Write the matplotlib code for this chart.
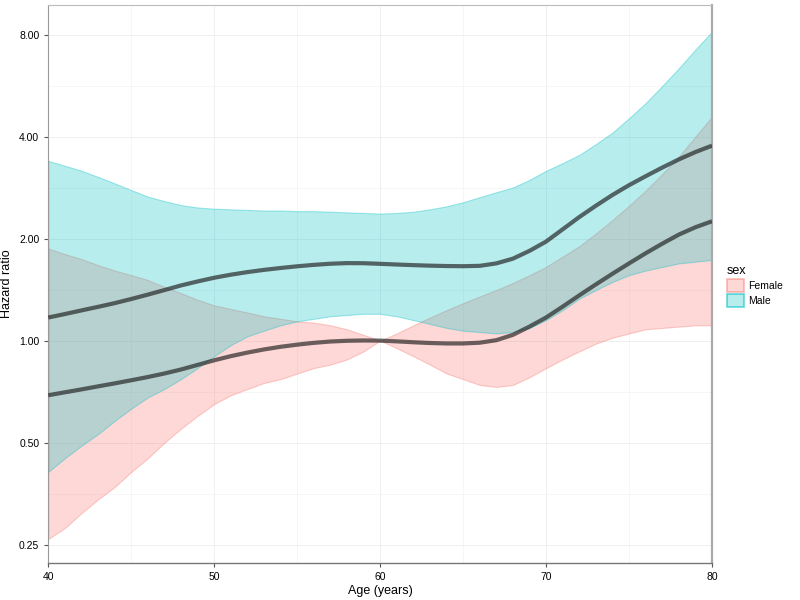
import matplotlib

matplotlib.use("Agg")
import matplotlib.pyplot as plt
from matplotlib.patches import Patch
from matplotlib.colors import to_rgba
import numpy as np

plt.rcParams["font.family"] = ["Liberation Sans", "DejaVu Sans"]

age = list(range(40, 81))

# hazard ratios (relative to age 60)
male_hr = [1.170, 1.198, 1.228, 1.258, 1.290, 1.327, 1.367, 1.410, 1.455, 1.495,
           1.533, 1.565, 1.593, 1.617, 1.638, 1.657, 1.673, 1.686, 1.693, 1.692,
           1.685, 1.677, 1.670, 1.664, 1.660, 1.658, 1.662, 1.690, 1.745, 1.840,
           1.960, 2.130, 2.315, 2.500, 2.690, 2.875, 3.055, 3.240, 3.425, 3.600, 3.760]
male_lo = [0.41, 0.45, 0.49, 0.53, 0.58, 0.63, 0.68, 0.72, 0.77, 0.83,
           0.90, 0.97, 1.03, 1.07, 1.11, 1.14, 1.16, 1.18, 1.19, 1.20,
           1.20, 1.18, 1.15, 1.12, 1.09, 1.07, 1.06, 1.05, 1.06, 1.09,
           1.15, 1.23, 1.33, 1.41, 1.49, 1.56, 1.61, 1.65, 1.69, 1.71, 1.73]
male_hi = [3.39, 3.28, 3.17, 3.04, 2.91, 2.78, 2.66, 2.58, 2.51, 2.47,
           2.45, 2.44, 2.43, 2.42, 2.42, 2.41, 2.41, 2.40, 2.39, 2.38,
           2.37, 2.38, 2.40, 2.44, 2.49, 2.56, 2.65, 2.74, 2.83, 2.98,
           3.17, 3.34, 3.53, 3.80, 4.11, 4.53, 5.02, 5.64, 6.36, 7.22, 8.16]

female_hr = [0.690, 0.704, 0.718, 0.733, 0.748, 0.764, 0.781, 0.800, 0.822, 0.848,
             0.875, 0.900, 0.922, 0.942, 0.959, 0.973, 0.985, 0.994, 0.999, 1.001,
             1.000, 0.995, 0.989, 0.984, 0.981, 0.981, 0.986, 1.003, 1.040, 1.100,
             1.170, 1.260, 1.360, 1.465, 1.575, 1.690, 1.810, 1.932, 2.055, 2.160, 2.250]
female_lo = [0.26, 0.28, 0.31, 0.34, 0.37, 0.41, 0.45, 0.50, 0.55, 0.60,
             0.65, 0.69, 0.72, 0.75, 0.77, 0.80, 0.83, 0.85, 0.88, 0.93,
             1.00, 0.95, 0.90, 0.85, 0.80, 0.77, 0.74, 0.73, 0.74, 0.78,
             0.83, 0.88, 0.93, 0.98, 1.02, 1.05, 1.08, 1.09, 1.10, 1.11, 1.11]
female_hi = [1.87, 1.80, 1.74, 1.67, 1.61, 1.56, 1.51, 1.44, 1.38, 1.32,
             1.27, 1.24, 1.21, 1.18, 1.16, 1.14, 1.13, 1.11, 1.08, 1.04,
             1.00, 1.05, 1.11, 1.17, 1.23, 1.29, 1.35, 1.41, 1.48, 1.56,
             1.65, 1.77, 1.90, 2.07, 2.27, 2.50, 2.77, 3.10, 3.49, 4.00, 4.58]

y_ticks = [0.25, 0.5, 1.0, 2.0, 4.0, 8.0]
x_ticks = [40, 50, 60, 70, 80]

FEMALE = "#F8766D"
MALE = "#00BFC4"
ALPHA = 0.28

fig = plt.figure(figsize=(8, 6), dpi=100)
ax = fig.add_axes([0.0604, 0.0617, 0.8296, 0.9303])

for lo, hi, col in [(female_lo, female_hi, FEMALE), (male_lo, male_hi, MALE)]:
    ax.fill_between(age, lo, hi, facecolor=to_rgba(col, ALPHA),
                    edgecolor=to_rgba(col, 0.35), linewidth=0.8, zorder=2)

for hr in (female_hr, male_hr):
    ax.plot(age, hr, color="#1a1a1a", alpha=0.65, lw=3.0,
            solid_capstyle="butt", solid_joinstyle="round", zorder=3)

ax.set_yscale("log", base=2)
ax.set_xlim(40, 80)
ax.set_ylim(0.2208, 9.79)
ax.set_yticks(y_ticks)
ax.set_yticklabels([f"{v:.2f}" for v in y_ticks])
ax.set_yticks([v * np.sqrt(2) for v in y_ticks[:-1]], minor=True)
ax.yaxis.set_minor_formatter(matplotlib.ticker.NullFormatter())
ax.set_xticks(x_ticks)
ax.set_xticks([45, 55, 65, 75], minor=True)

ax.grid(True, which="major", color="#ececec", lw=0.6, zorder=0)
ax.grid(True, which="minor", color="#f5f5f5", lw=0.6, zorder=0)
ax.set_axisbelow(True)

ax.tick_params(axis="both", which="major", labelsize=7.5, length=3,
               color="#555555", width=0.8, labelcolor="black")
ax.tick_params(axis="both", which="minor", length=0)

ax.spines["left"].set_color("#999999")
ax.spines["bottom"].set_color("#777777")
ax.spines["top"].set_color("#bbbbbb")
ax.spines["right"].set_color("#aaaaaa")
ax.spines["right"].set_linewidth(1.6)
ax.spines["bottom"].set_linewidth(1.0)

ax.set_xlabel("Age (years)", fontsize=9, labelpad=2)
ax.set_ylabel("Hazard ratio", fontsize=9, labelpad=4)

handles = [
    Patch(facecolor=to_rgba(FEMALE, ALPHA), edgecolor=to_rgba(FEMALE, 0.5), lw=1.2, label="Female"),
    Patch(facecolor=to_rgba(MALE, ALPHA), edgecolor=to_rgba(MALE, 0.6), lw=1.2, label="Male"),
]
fig.legend(handles=handles, title="sex", loc="center left",
           bbox_to_anchor=(0.897, 0.523), frameon=False, fontsize=7.5,
           title_fontsize=9, handlelength=1.6, handleheight=1.6,
           handletextpad=0.4, labelspacing=0.15, alignment="left")

fig.savefig("out.png", dpi=100)
